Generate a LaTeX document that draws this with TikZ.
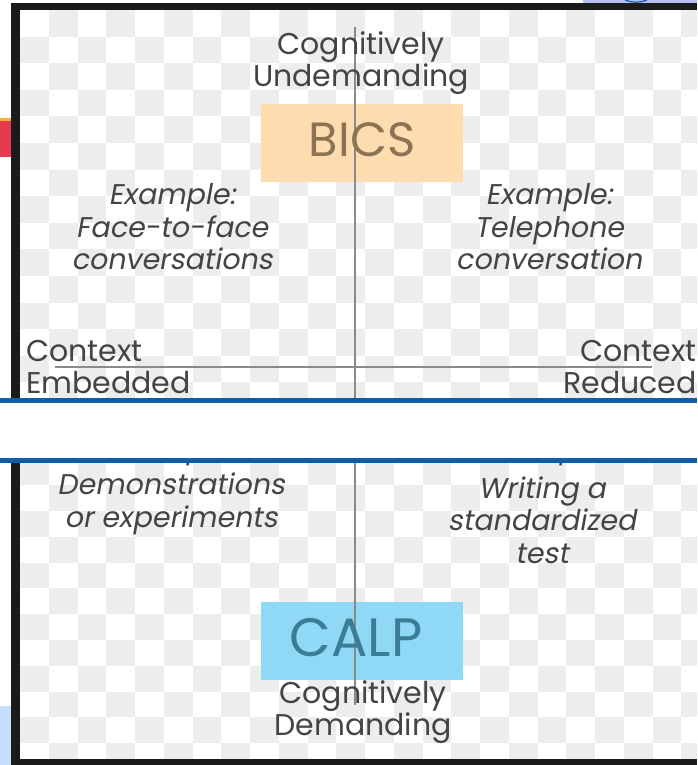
\documentclass[tikz,border=0pt]{standalone}
\usepackage{fontspec}
\setmainfont{Poppins}
\newfontfamily\slantfont[FakeSlant=0.18]{Poppins}
\definecolor{checkgray}{HTML}{EDEDED}
\definecolor{txtgray}{HTML}{444444}
\definecolor{axisgray}{HTML}{8A8A8A}
\definecolor{bicsfill}{HTML}{FDDCAF}
\definecolor{bicstext}{HTML}{8C7352}
\definecolor{calpfill}{HTML}{8FD8F6}
\definecolor{calptext}{HTML}{3B7C97}
\definecolor{bandblue}{HTML}{0F5EA5}
\definecolor{framedark}{HTML}{1B1B1B}
\definecolor{tabblue}{HTML}{B7BFF2}
\definecolor{tabred}{HTML}{E63950}
\definecolor{tabyellow}{HTML}{F5B335}
\definecolor{tablight}{HTML}{C4E0FA}
\tikzset{
  labeltext/.style={font=\fontsize{30}{32.5}\selectfont, text=txtgray, align=center, inner sep=0pt},
  exampletext/.style={font=\fontsize{28.5}{32.5}\selectfont\slantfont, text=txtgray, align=center, inner sep=0pt},
  quadbox/.style={minimum width=202pt, minimum height=78pt, inner sep=0pt},
  axisline/.style={draw=axisgray, line width=1.4pt}
}
\begin{document}
\begin{tikzpicture}[x=1pt,y=-1pt]
\useasboundingbox (0,0) rectangle (697,765);
\fill[white] (0,0) rectangle (697,765);

% checkerboard backdrop, upper panel
\begin{scope}
  \clip (20,10) rectangle (697,398);
  \foreach \i in {0,...,23}{
    \foreach \j in {0,...,14}{
      \pgfmathparse{int(mod(\i+\j,2))}
      \ifnum\pgfmathresult=1
        \fill[checkgray] ({20+28.75*\i},{10+26.6*\j}) rectangle ++(28.75,26.6);
      \fi
    }
  }
\end{scope}

% checkerboard backdrop, lower panel
\begin{scope}
  \clip (20,463) rectangle (697,759);
  \foreach \i in {0,...,23}{
    \foreach \j in {0,...,12}{
      \pgfmathparse{int(mod(\i+\j,2))}
      \ifnum\pgfmathresult=0
        \fill[checkgray] ({20+28.75*\i},{459.3+25.8*\j}) rectangle ++(28.75,25.8);
      \fi
    }
  }
\end{scope}

% coloured boxes
\node[quadbox, fill=bicsfill] (bicsbox) at (362,143) {};
\node[quadbox, fill=calpfill] (calpbox) at (362,641) {};

% axes
\coordinate (vtop) at (355,27);
\coordinate (vbot) at (355,705);
\coordinate (hleft) at (55,367);
\coordinate (hright) at (652,367);
\draw[axisline] (vtop) -- (vbot);
\draw[axisline] (hleft) -- (hright);

% box titles
\node[font=\fontsize{48}{48}\selectfont, text=bicstext, inner sep=0pt] (bics) at (362,140) {BICS};
\node[font=\fontsize{54}{54}\selectfont, text=calptext, inner sep=0pt] (calp) at (356,638) {CALP};

% axis labels
\node[labeltext] (undem) at (361,63) {Cognitively\\Undemanding};
\node[labeltext] (dem) at (363,712) {Cognitively\\Demanding};
\node[labeltext, align=left, anchor=west] (embedded) at (26,367) {Context\\Embedded};
\node[labeltext, align=right, anchor=east] (reduced) at (697,367) {Context\\Reduced};

% quadrant examples
\node[exampletext] (exul) at (172,227) {Example:\\Face-to-face\\conversations};
\node[exampletext] (exur) at (549,227) {Example:\\Telephone\\conversation};
\node[exampletext] (exllhead) at (172,452) {Example:};
\node[exampletext] (exlrhead) at (545,452) {Example:};
\node[exampletext] (exll) at (171,504) {Demonstrations\\or experiments};
\node[exampletext] (exlr) at (542,520) {Writing a\\standardized\\test};

% band between the two panels
\fill[white] (0,398) rectangle (697,463);
\fill[bandblue] (0,398) rectangle (697,403);
\fill[bandblue] (0,458) rectangle (697,463);

% window frame
\fill[framedark] (11,3) rectangle (697,10);
\fill[framedark] (11,3) rectangle (20,398);
\fill[framedark] (11,463) rectangle (20,765);
\fill[framedark] (11,759) rectangle (697,765);

% edges of neighbouring windows
\fill[tabblue] (583,0) rectangle (697,3);
\draw[bandblue, line width=1.2pt] (625,0) .. controls (632,3) and (640,3) .. (647,0);
\fill[tabred] (0,118) rectangle (11,157);
\fill[tabyellow] (0,118) rectangle (11,121);
\fill[tablight] (0,706) rectangle (11,765);
\end{tikzpicture}
\end{document}
